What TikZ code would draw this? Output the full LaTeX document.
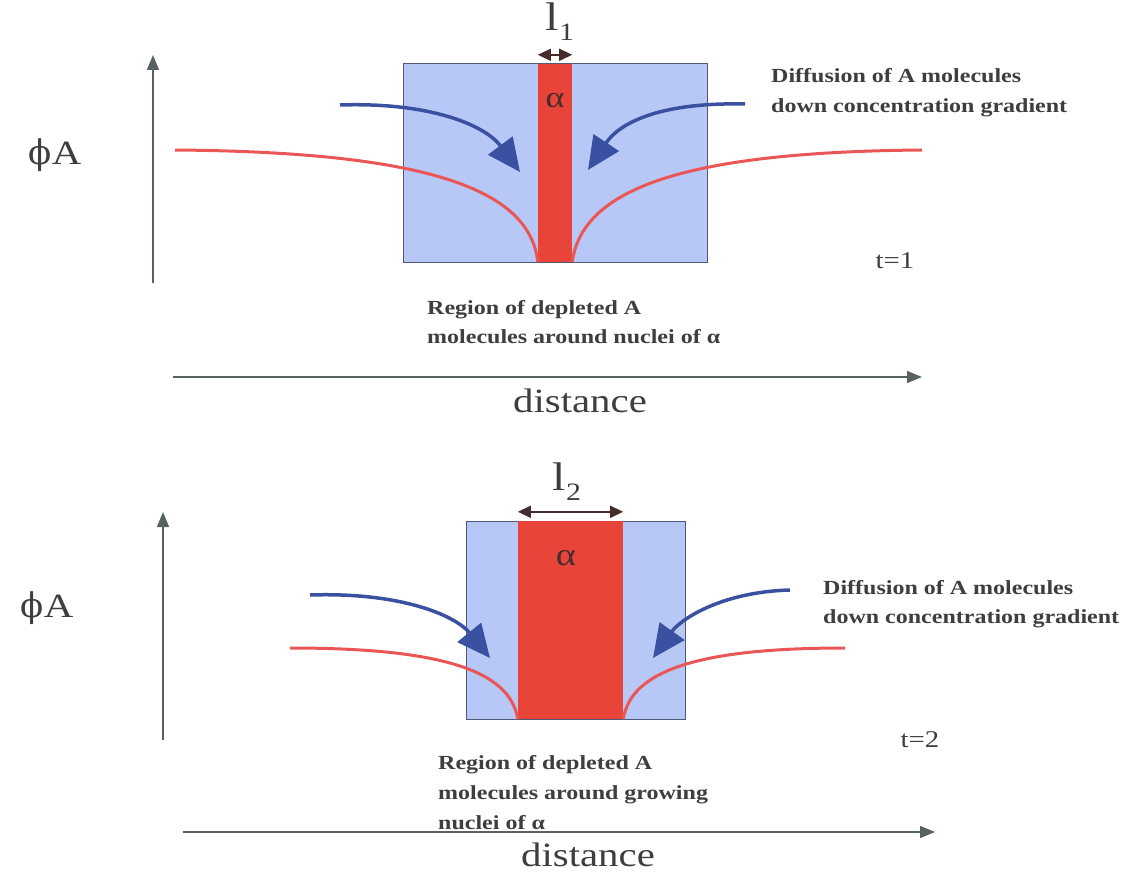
\documentclass[tikz,border=0pt]{standalone}
\usepackage{fontspec}
\setmainfont{Liberation Serif}[FakeStretch=1.2]
\newfontfamily\phifont{DejaVu Serif}
\usetikzlibrary{arrows.meta,positioning}
\definecolor{boxblue}{RGB}{184,200,246}
\definecolor{boxedge}{RGB}{80,90,120}
\definecolor{nucred}{RGB}{232,68,58}
\definecolor{curvered}{RGB}{234,86,86}
\definecolor{flowblue}{RGB}{58,80,160}
\definecolor{axisgray}{RGB}{88,98,98}
\definecolor{txtgray}{RGB}{62,62,62}
\definecolor{dimdark}{RGB}{70,45,45}

\begin{document}
\begin{tikzpicture}[x=1pt, y=-1pt,
    axis/.style={draw=axisgray, line width=1.5pt, -{Triangle[length=15pt,width=12pt]}},
    flow/.style={draw=flowblue, line width=3.5pt, -{Triangle[length=33pt,width=30pt]}},
    conc/.style={draw=curvered, line width=3pt},
    dim/.style={draw=dimdark, line width=1.5pt, {Triangle[length=13pt,width=12pt]}-{Triangle[length=13pt,width=12pt]}},
    note/.style={font=\fontsize{20}{29}\selectfont\bfseries, text=txtgray, align=left, inner sep=0pt, anchor=north west},
    big/.style={font=\fontsize{34}{40}\selectfont, text=txtgray, inner sep=0pt},
    mid/.style={font=\fontsize{24}{28}\selectfont, text=txtgray, inner sep=0pt}]
  \useasboundingbox (0,0) rectangle (1133,875);

  % t = 1
  \node[draw=boxedge, line width=1pt, fill=boxblue, minimum width=304pt, minimum height=198pt, inner sep=0pt] (cell1) at (555,163) {};
  \node[fill=nucred, minimum width=34pt, minimum height=198pt, inner sep=0pt] (nuc1) at (555,163) {};
  \node[font=\fontsize{30}{30}\selectfont, text=dimdark] (alpha1) at (555,101) {α};
  \draw[dim] ([yshift=9pt]nuc1.north west) -- ([yshift=9pt]nuc1.north east);
  \node[font=\fontsize{40}{40}\selectfont, text=txtgray] (len1) at (560,22) {l\raisebox{-10pt}{\fontsize{25}{25}\selectfont 1}};

  \draw[conc] (175,150) .. controls (430,152) and (530,190) .. (nuc1.south west);
  \draw[conc] (nuc1.south east) .. controls (582,190) and (680,152) .. (922,150);

  \coordinate (in1a) at (340,105);
  \coordinate (in1b) at (745,104);
  \draw[flow] (in1a) .. controls (430,102) and (485,125) .. (520,172);
  \draw[flow] (in1b) .. controls (655,102) and (618,125) .. (588,170);

  \node[note] (diff1) at (771,68) {Diffusion of A molecules\\[1pt]down concentration gradient};
  \node[note] (reg1) at (427,300) {Region of depleted A\\molecules around nuclei of α};
  \node[mid] (time1) at (895,261) {t=1};
  \node[big] (phi1) at (55,155) {{\phifont ϕ}A};
  \node[big] (dist1) at (580,401) {distance};

  \coordinate (v1a) at (153,283);
  \coordinate (v1b) at (153,55);
  \coordinate (h1a) at (173,377);
  \coordinate (h1b) at (922,377);
  \draw[axis] (v1a) -- (v1b);
  \draw[axis] (h1a) -- (h1b);

  % t = 2
  \node[draw=boxedge, line width=1pt, fill=boxblue, minimum width=219pt, minimum height=198pt, inner sep=0pt] (cell2) at (575.5,620) {};
  \node[fill=nucred, minimum width=105pt, minimum height=198pt, inner sep=0pt] (nuc2) at (570.5,620) {};
  \node[font=\fontsize{32}{32}\selectfont, text=dimdark] (alpha2) at (566,558) {α};
  \draw[dim] ([yshift=9pt]nuc2.north west) -- ([yshift=9pt]nuc2.north east);
  \node[font=\fontsize{40}{40}\selectfont, text=txtgray] (len2) at (567,482) {l\raisebox{-10pt}{\fontsize{25}{25}\selectfont 2}};

  \draw[conc] (290,648) .. controls (440,648) and (510,670) .. (nuc2.south west);
  \draw[conc] (nuc2.south east) .. controls (631,670) and (700,648) .. (845,648);

  \coordinate (in2a) at (310,595);
  \coordinate (in2b) at (790,590);
  \draw[flow] (in2a) .. controls (400,592) and (455,615) .. (490,658);
  \draw[flow] (in2b) .. controls (720,592) and (680,620) .. (653,658);

  \node[note] (diff2) at (823,580) {Diffusion of A molecules\\down concentration gradient};
  \node[note] (reg2) at (438,755) {Region of depleted A\\[1pt]molecules around growing\\[1pt]nuclei of α};
  \node[mid] (time2) at (920,740) {t=2};
  \node[big] (phi2) at (47,608) {{\phifont ϕ}A};
  \node[big] (dist2) at (588,855) {distance};

  \coordinate (v2a) at (163,740);
  \coordinate (v2b) at (163,512);
  \coordinate (h2a) at (183,832);
  \coordinate (h2b) at (935,832);
  \draw[axis] (v2a) -- (v2b);
  \draw[axis] (h2a) -- (h2b);
\end{tikzpicture}
\end{document}
